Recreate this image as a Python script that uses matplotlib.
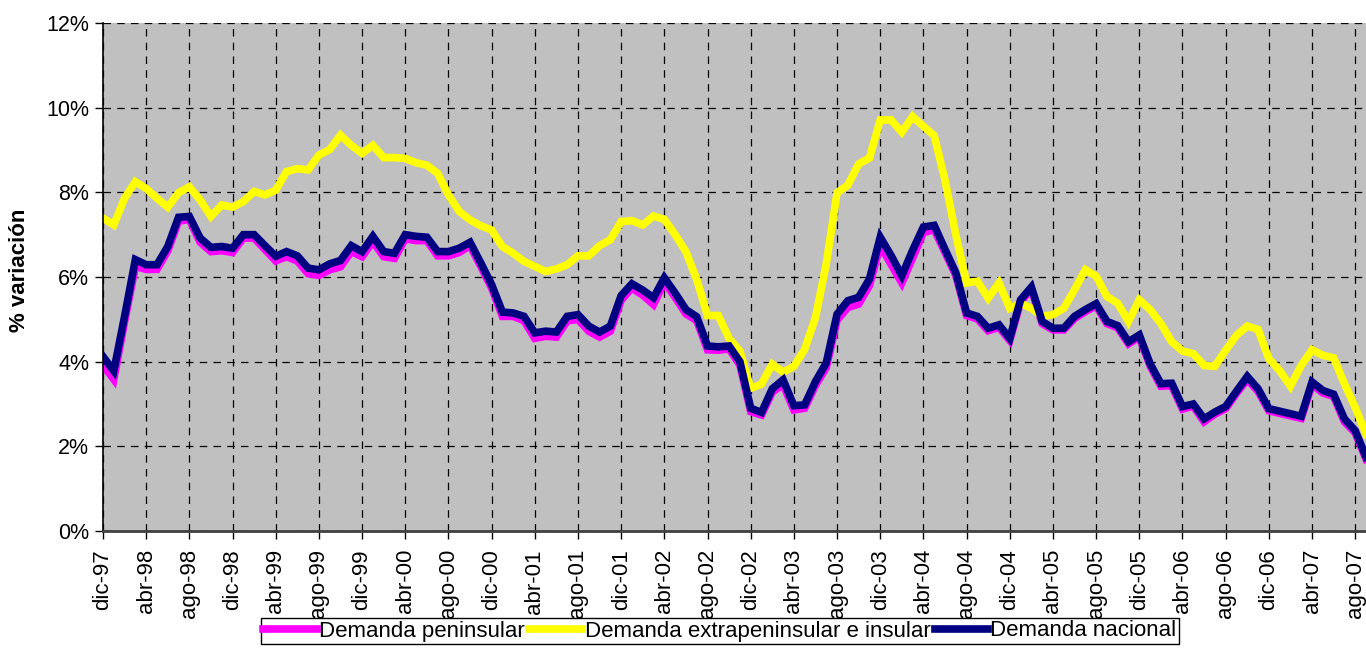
import matplotlib
matplotlib.use("Agg")
import matplotlib.pyplot as plt
import numpy as np

plt.rcParams['font.family'] = ['Liberation Sans', 'DejaVu Sans']

tick_labels = ["dic-97", "abr-98", "ago-98", "dic-98", "abr-99", "ago-99", "dic-99", "abr-00",
               "ago-00", "dic-00", "abr-01", "ago-01", "dic-01", "abr-02", "ago-02", "dic-02",
               "abr-03", "ago-03", "dic-03", "abr-04", "ago-04", "dic-04", "abr-05", "ago-05",
               "dic-05", "abr-06", "ago-06", "dic-06", "abr-07", "ago-07"]

peninsular = [3.92, 3.58, 4.95, 6.25, 6.18, 6.18, 6.62, 7.32, 7.36, 6.82, 6.60, 6.62, 6.58, 6.92, 6.92,
              6.65, 6.38, 6.48, 6.38, 6.08, 6.04, 6.17, 6.24, 6.60, 6.48, 6.84, 6.48, 6.44, 6.90, 6.86,
              6.86, 6.50, 6.50, 6.58, 6.74, 6.25, 5.74, 5.07, 5.07, 4.97, 4.55, 4.60, 4.58, 4.96, 5.00,
              4.72, 4.58, 4.72, 5.45, 5.74, 5.57, 5.35, 5.88, 5.52, 5.13, 4.97, 4.28, 4.27, 4.30, 3.92,
              2.82, 2.74, 3.28, 3.46, 2.86, 2.90, 3.44, 3.86, 4.98, 5.28, 5.36, 5.80, 6.75, 6.30, 5.86,
              6.45, 7.05, 7.12, 6.58, 6.04, 5.09, 5.01, 4.73, 4.81, 4.50, 5.41, 5.72, 4.90, 4.75, 4.75,
              5.02, 5.18, 5.32, 4.90, 4.80, 4.42, 4.58, 3.90, 3.42, 3.43, 2.88, 2.95, 2.58, 2.76, 2.89,
              3.25, 3.58, 3.30, 2.84, 2.78, 2.72, 2.66, 3.46, 3.26, 3.18, 2.58, 2.32, 1.70]

extrapeninsular = [7.39, 7.23, 7.86, 8.25, 8.09, 7.86, 7.65, 7.99, 8.13, 7.82, 7.43, 7.70, 7.65, 7.78, 8.02,
                   7.94, 8.05, 8.49, 8.56, 8.53, 8.88, 9.01, 9.35, 9.11, 8.92, 9.11, 8.82, 8.82, 8.80, 8.70,
                   8.64, 8.45, 7.94, 7.55, 7.35, 7.21, 7.11, 6.72, 6.56, 6.37, 6.25, 6.13, 6.19, 6.29, 6.50,
                   6.50, 6.74, 6.88, 7.31, 7.33, 7.23, 7.44, 7.36, 7.00, 6.60, 5.94, 5.09, 5.09, 4.55, 4.25,
                   3.37, 3.47, 3.94, 3.75, 3.89, 4.29, 5.04, 6.31, 7.99, 8.17, 8.67, 8.81, 9.71, 9.71, 9.42,
                   9.79, 9.56, 9.34, 8.29, 7.00, 5.86, 5.90, 5.50, 5.86, 5.26, 5.38, 5.26, 5.07, 5.11, 5.26,
                   5.70, 6.17, 6.02, 5.54, 5.38, 4.95, 5.46, 5.23, 4.90, 4.47, 4.25, 4.19, 3.91, 3.89, 4.27,
                   4.62, 4.84, 4.76, 4.07, 3.79, 3.42, 3.91, 4.28, 4.15, 4.09, 3.48, 2.92, 2.29]

nacional = [4.12, 3.78, 5.07, 6.41, 6.29, 6.29, 6.72, 7.41, 7.43, 6.92, 6.70, 6.72, 6.68, 7.00, 7.00,
            6.74, 6.49, 6.60, 6.50, 6.21, 6.17, 6.31, 6.39, 6.74, 6.60, 6.96, 6.60, 6.56, 7.00, 6.96,
            6.94, 6.60, 6.60, 6.68, 6.82, 6.33, 5.82, 5.17, 5.15, 5.07, 4.68, 4.72, 4.70, 5.07, 5.11,
            4.84, 4.70, 4.84, 5.56, 5.84, 5.69, 5.51, 5.98, 5.62, 5.23, 5.06, 4.37, 4.35, 4.37, 4.00,
            2.90, 2.80, 3.36, 3.57, 2.96, 2.98, 3.53, 3.97, 5.12, 5.44, 5.52, 5.95, 6.94, 6.51, 6.03,
            6.63, 7.18, 7.22, 6.65, 6.10, 5.15, 5.07, 4.79, 4.87, 4.55, 5.46, 5.76, 4.95, 4.79, 4.79,
            5.07, 5.23, 5.37, 4.95, 4.85, 4.47, 4.63, 3.95, 3.48, 3.49, 2.94, 3.00, 2.65, 2.81, 2.94,
            3.30, 3.65, 3.36, 2.89, 2.83, 2.77, 2.71, 3.52, 3.32, 3.23, 2.65, 2.37, 1.75]

series_names = ["Demanda peninsular", "Demanda extrapeninsular e insular", "Demanda nacional"]
series_colors = ["#FF00FF", "#FFFF00", "#000080"]

fig = plt.figure(figsize=(13.66, 6.71), dpi=100)
ax = fig.add_axes([103 / 1366, 1 - 531 / 671, 1 - 103 / 1366, (531 - 23) / 671])
ax.set_facecolor("#C0C0C0")

x = np.arange(len(nacional))
for vals, name, col in zip([peninsular, extrapeninsular, nacional], series_names, series_colors):
    ax.plot(x, vals, color=col, lw=5.5, label=name, solid_joinstyle="miter", clip_on=True)

ax.set_xlim(0, len(nacional) - 1)
ax.set_ylim(0, 12)
ax.set_xticks(np.arange(0, 4 * len(tick_labels), 4))
ax.set_xticklabels(tick_labels, rotation=90, fontsize=16)
ax.set_yticks(np.arange(0, 13, 2))
ax.set_yticklabels([f"{v}%" for v in range(0, 13, 2)], fontsize=15.5)
ax.tick_params(axis="x", direction="out", length=6, width=1, pad=7, colors="black")
ax.tick_params(axis="y", direction="out", length=6, width=1, pad=4, colors="black")

ax.grid(True, color="black", lw=0.9, linestyle=(0, (6, 5)))
ax.set_axisbelow(True)
for s in ["top", "right"]:
    ax.spines[s].set_visible(False)
ax.spines["left"].set_color("black")
ax.spines["left"].set_linewidth(1.2)
ax.spines["bottom"].set_color("#404040")
ax.spines["bottom"].set_linewidth(2)

fig.text(20 / 1366, 1 - 270 / 671, "% variación", rotation=90, fontsize=16,
         fontweight="bold", ha="center", va="center")

leg = fig.legend(loc="center", bbox_to_anchor=(720 / 1366, 1 - 631 / 671), ncol=3,
                 fontsize=16, frameon=True, fancybox=False, framealpha=1,
                 edgecolor="black", facecolor="white", handlelength=2.4,
                 handletextpad=0.1, columnspacing=0.2, borderpad=0.1,
                 borderaxespad=0)
leg.get_frame().set_linewidth(1.0)

fig.savefig("out.png", dpi=100)
